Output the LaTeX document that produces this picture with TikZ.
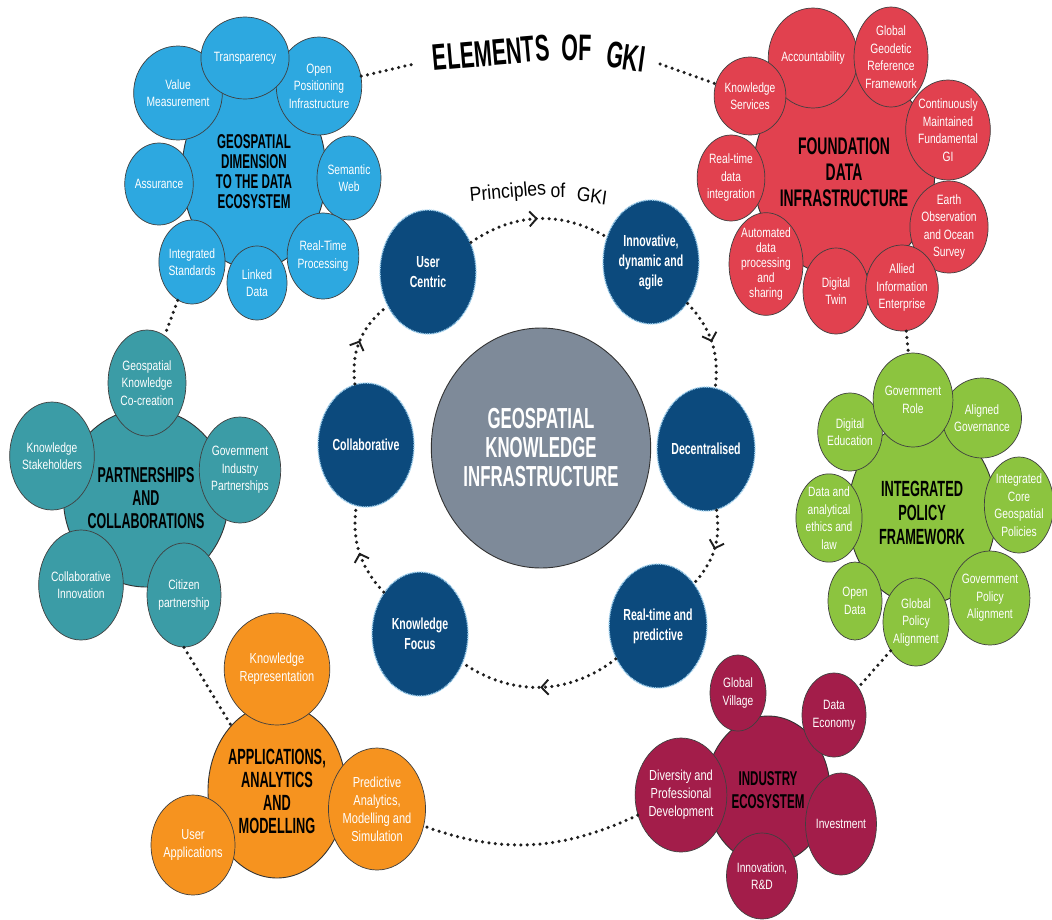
\documentclass[tikz,border=0pt]{standalone}
\usepackage{fontspec}
\setmainfont{Liberation Sans}
\newfontfamily\satfont[FakeStretch=0.76]{Liberation Sans}
\newfontfamily\titlefont[FakeStretch=0.58]{Liberation Sans}
\newfontfamily\prinfont[FakeStretch=0.66]{Liberation Sans}
\newfontfamily\capfont[FakeStretch=0.88]{Liberation Sans}
\usetikzlibrary{shapes.geometric, arrows.meta, decorations.markings}

\definecolor{cblue}{HTML}{2DA8E0}
\definecolor{cred}{HTML}{E1414F}
\definecolor{cgreen}{HTML}{8CC43F}
\definecolor{ccrim}{HTML}{A31D4A}
\definecolor{corange}{HTML}{F6931F}
\definecolor{cteal}{HTML}{3B9CA6}
\definecolor{cprin}{HTML}{0C4A7D}
\definecolor{cgray}{HTML}{7E8A99}
\definecolor{chalo}{HTML}{9FD0EE}
\definecolor{cline}{HTML}{1E1E1E}

\tikzset{
  wh/.style 2 args={minimum width=#1pt, minimum height=#2pt},
  sat/.style={ellipse, draw=black!75, line width=0.7pt, inner sep=0pt,
    align=center, text=white, font=\satfont\fontsize{13.5}{17.5}\selectfont},
  bigsat/.style={sat, font=\satfont\fontsize{14.5}{18}\selectfont},
  hub/.style={ellipse, draw=black!80, line width=0.9pt, inner sep=0pt,
    align=center, text=black, font=\titlefont\bfseries\fontsize{22}{24}\selectfont},
  prin/.style={ellipse, draw=chalo, line width=1.4pt, dash pattern=on 1pt off 0.8pt,
    fill=cprin, wh={96}{124}, inner sep=0pt, align=center, text=white,
    font=\prinfont\bfseries\fontsize{16}{20}\selectfont},
  elemword/.style={inner sep=0pt, text=black, font=\titlefont\bfseries\fontsize{37}{37}\selectfont},
  princword/.style={inner sep=0pt, text=black, font=\capfont\fontsize{20}{20}\selectfont},
  dotline/.style={draw=cline, line width=3.5pt, line cap=round, dash pattern=on 0pt off 6.4pt},
  ring/.style={dotline, postaction={decorate},
    decoration={markings, mark=at position 0.5 with
      {\arrow[line width=1.9pt, cline]{Straight Barb[length=7pt, width=15pt]}}}}
}

\begin{document}
\begin{tikzpicture}[x=1pt, y=1pt]
\fill[white] (0,0) rectangle (1052,-919);
\useasboundingbox (0,0) rectangle (1052,-919);

% ---- Geospatial dimension to the data ecosystem ----
\node[hub, fill=cblue, wh={144}{194}, font=\titlefont\bfseries\fontsize{20}{20}\selectfont]
  (bhub) at (254,-172) {GEOSPATIAL\\DIMENSION\\TO THE DATA\\ECOSYSTEM};
\node[sat, fill=cblue, wh={74}{94}] (vm) at (178,-93) {Value\\Measurement};
\node[sat, fill=cblue, wh={78}{98}] (opi) at (319,-86) {Open\\Positioning\\Infrastructure};
\node[sat, fill=cblue, wh={70}{82}] (tra) at (245,-58) {Transparency};
\node[sat, fill=cblue, wh={58}{82}] (asr) at (159,-184) {Assurance};
\node[sat, fill=cblue, wh={64}{84}] (sw) at (349,-178) {Semantic\\Web};
\node[sat, fill=cblue, wh={70}{86}] (rtpr) at (323,-256) {Real-Time\\Processing};
\node[sat, fill=cblue, wh={60}{84}] (isd) at (192,-262) {Integrated\\Standards};
\node[sat, fill=cblue, wh={60}{74}] (ld) at (257,-283) {Linked\\Data};

% ---- Foundation data infrastructure ----
\node[hub, fill=cred, wh={178}{210}, font=\titlefont\bfseries\fontsize{24}{26}\selectfont]
  (rhub) at (844,-172) {FOUNDATION\\DATA\\INFRASTRUCTURE};
\node[sat, fill=cred, wh={74}{100}] (acc) at (813,-58) {Accountability};
\node[sat, fill=cred, wh={74}{100}] (ggrf) at (891,-57) {Global\\Geodetic\\Reference\\Framework};
\node[sat, fill=cred, wh={60}{78}] (ks) at (750,-96) {Knowledge\\Services};
\node[sat, fill=cred, wh={72}{100}] (cmf) at (948,-130) {Continuously\\Maintained\\Fundamental\\GI};
\node[sat, fill=cred, wh={62}{86}] (rtdi) at (731,-178) {Real-time\\data\\integration};
\node[sat, fill=cred, wh={62}{84}] (eoos) at (949,-227) {Earth\\Observation\\and Ocean\\Survey};
\node[sat, fill=cred, wh={74}{102}, font=\satfont\fontsize{13.5}{15}\selectfont]
  (adps) at (766,-264) {Automated\\data\\processing\\and\\sharing};
\node[sat, fill=cred, wh={66}{86}] (dt) at (836,-291) {Digital\\Twin};
\node[sat, fill=cred, wh={62}{86}] (aie) at (902,-288) {Allied\\Information\\Enterprise};

% ---- Integrated policy framework ----
\node[hub, fill=cgreen, wh={148}{184}] (ghub) at (922,-513) {INTEGRATED\\POLICY\\FRAMEWORK};
\node[sat, fill=cgreen, wh={64}{78}] (ded) at (850,-432) {Digital\\Education};
\node[sat, fill=cgreen, wh={64}{80}] (ag) at (982,-418) {Aligned\\Governance};
\node[sat, fill=cgreen, wh={66}{94}] (gr) at (913,-400) {Government\\Role};
\node[sat, fill=cgreen, wh={64}{96}] (icgp) at (1019,-505) {Integrated\\Core\\Geospatial\\Policies};
\node[sat, fill=cgreen, wh={64}{88}] (dael) at (829,-518) {Data and\\analytical\\ethics and\\law};
\node[sat, fill=cgreen, wh={66}{94}] (gpal) at (990,-598) {Government\\Policy\\Alignment};
\node[sat, fill=cgreen, wh={54}{78}] (od) at (855,-601) {Open\\Data};
\node[sat, fill=cgreen, wh={66}{88}] (gpa) at (916,-622) {Global\\Policy\\Alignment};

% ---- Industry ecosystem ----
\node[hub, fill=ccrim, wh={124}{148}, font=\titlefont\bfseries\fontsize{20}{23}\selectfont]
  (ihub) at (768,-790) {INDUSTRY\\ECOSYSTEM};
\node[sat, fill=ccrim, wh={56}{76}] (gv) at (738,-693) {Global\\Village};
\node[sat, fill=ccrim, wh={64}{84}] (de) at (834,-715) {Data\\Economy};
\node[bigsat, fill=ccrim, wh={88}{114}] (dpd) at (681,-795) {Diversity and\\Professional\\Development};
\node[sat, fill=ccrim, wh={64}{102}] (inv) at (841,-824) {Investment};
\node[sat, fill=ccrim, wh={70}{86}] (ird) at (762,-876) {Innovation,\\R\&D};

% ---- Applications, analytics and modelling ----
\node[hub, fill=corange, wh={136}{174}, font=\titlefont\bfseries\fontsize{22}{23}\selectfont]
  (aam) at (277,-791) {APPLICATIONS,\\ANALYTICS\\AND\\MODELLING};
\node[bigsat, fill=corange, wh={86}{112}] (kr) at (277,-669) {Knowledge\\Representation};
\node[bigsat, fill=corange, wh={90}{122}] (pams) at (377,-809) {Predictive\\Analytics,\\Modelling and\\Simulation};
\node[bigsat, fill=corange, wh={74}{100}] (ua) at (193,-845) {User\\Applications};

% ---- Partnerships and collaborations ----
\node[hub, fill=cteal, wh={136}{178}, font=\titlefont\bfseries\fontsize{21.5}{23}\selectfont]
  (thub) at (146,-498) {PARTNERSHIPS\\AND\\COLLABORATIONS};
\node[sat, fill=cteal, wh={78}{106}] (gkc) at (147,-383) {Geospatial\\Knowledge\\Co-creation};
\node[sat, fill=cteal, wh={76}{108}] (kst) at (52,-456) {Knowledge\\Stakeholders};
\node[sat, fill=cteal, wh={74}{106}] (gip) at (240,-470) {Government\\Industry\\Partnerships};
\node[sat, fill=cteal, wh={76}{110}] (cin) at (81,-585) {Collaborative\\Innovation};
\node[sat, fill=cteal, wh={74}{104}] (cp) at (184,-595) {Citizen\\partnership};

% ---- Core and principles ----
\node[ellipse, fill=cgray, draw=black!80, line width=0.9pt, wh={186}{240}, inner sep=0pt,
  text=white, align=center, font=\titlefont\bfseries\fontsize{29}{29}\selectfont]
  (gki) at (541,-448) {GEOSPATIAL\\KNOWLEDGE\\INFRASTRUCTURE};
\node[prin] (uc) at (428,-272) {User\\Centric};
\node[prin] (inn) at (651,-262) {Innovative,\\dynamic and\\agile};
\node[prin] (dec) at (706,-449) {Decentralised};
\node[prin] (rtp) at (658,-626) {Real-time and\\predictive};
\node[prin] (kf) at (420,-634) {Knowledge\\Focus};
\node[prin] (col) at (366,-445) {Collaborative};

% principle cycle
\draw[ring] (uc) to[bend left=32] (inn);
\draw[ring] (inn) to[bend left=25] (dec);
\draw[ring] (dec) to[bend left=25] (rtp);
\draw[ring] (rtp) to[bend left=36] (kf);
\draw[ring] (kf) to[bend left=25] (col);
\draw[ring] (col) to[bend left=30] (uc);

% arched caption of the principle cycle
\node[princword, rotate=5] (pw1) at (508,-193) {Principles};
\node[princword] (pw2) at (558,-190) {of};
\node[princword, rotate=-8] (pw3) at (592,-196) {GKI};

% arched heading of the elements ring
\node[elemword, rotate=5] (ew1) at (491,-53) {ELEMENTS};
\node[elemword, rotate=-1] (ew2) at (577,-48) {OF};
\node[elemword, rotate=-8] (ew3) at (626,-57) {GKI};

% elements ring
\coordinate (titleL) at (414,-64);
\coordinate (titleR) at (660,-64);
\draw[dotline] (opi) -- (titleL);
\draw[dotline] (titleR) -- (ks);
\draw[dotline] (aie) -- (gr);
\draw[dotline] (gpa) -- (de);
\draw[dotline] (dpd) to[out=205, in=-20] (pams);
\draw[dotline] (cp.south) -- (aam.125);
\draw[dotline] (isd) -- (gkc);
\end{tikzpicture}
\end{document}
